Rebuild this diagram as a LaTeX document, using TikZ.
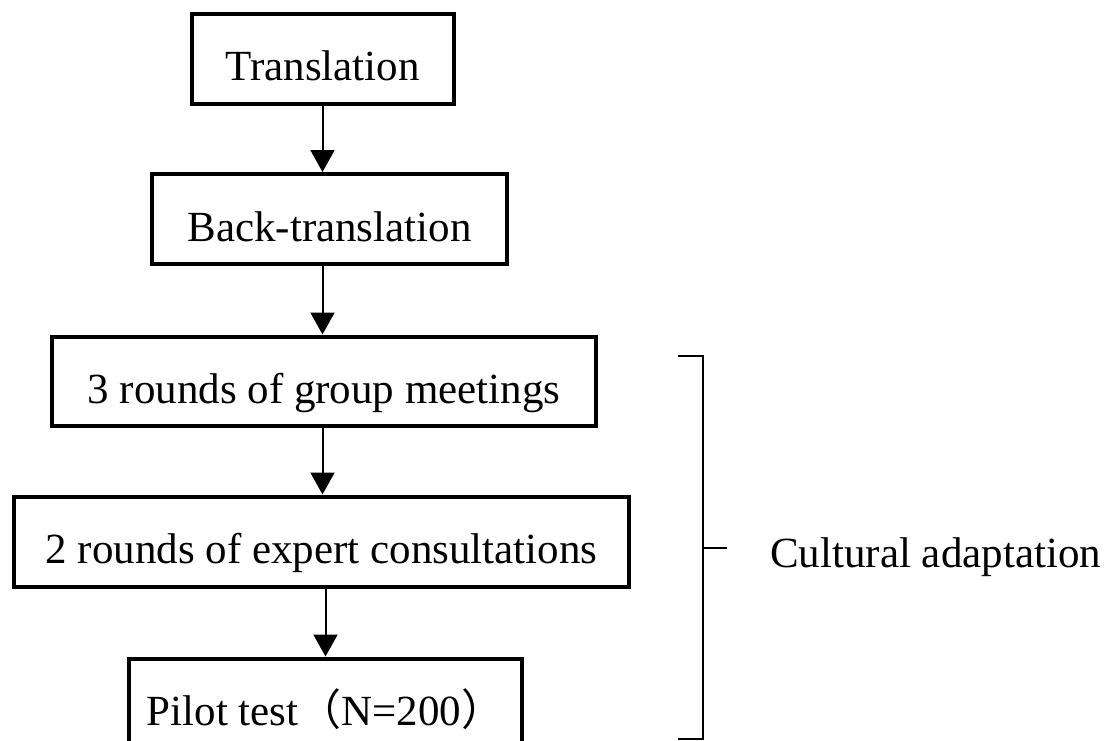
\documentclass[tikz,border=0pt]{standalone}
\usepackage{fontspec}
\setmainfont{Liberation Serif}
\newfontfamily\cjk{Noto Sans CJK SC}
\usetikzlibrary{arrows.meta}
\begin{document}
\begin{tikzpicture}[x=1pt,y=-1pt,
  stepbox/.style={draw=black, line width=4pt, inner sep=0pt, text height=44pt, text depth=0pt,
    font=\fontsize{43}{50}\selectfont, align=center},
  flow/.style={line width=2pt, -{Triangle[length=22pt,width=24pt]}},
  bracketline/.style={line width=2pt},
  labeltext/.style={font=\fontsize{43}{50}\selectfont, inner sep=0pt}]
\useasboundingbox (0,0) rectangle (1108,741);
\node[stepbox, minimum width=262pt, minimum height=89.5pt] (t) at (322.5,59) {Translation};
\node[stepbox, minimum width=355pt, minimum height=90pt] (b) at (329.5,219) {Back-translation};
\node[stepbox, minimum width=544pt, minimum height=89pt] (g) at (324,381) {3 rounds of group meetings};
\node[stepbox, minimum width=615pt, minimum height=90pt] (e) at (321.5,541.5) {2 rounds of expert consultations};
\node[stepbox, minimum width=393pt, minimum height=89pt] (p) at (325.5,703) {Pilot test{\cjk （}N=200{\cjk ）}};
\draw[flow] (t.south) -- (t.south |- b.north);
\draw[flow] (b.south -| t.south) -- (g.north -| t.south);
\draw[flow] (g.south -| t.south) -- (e.north -| t.south);
\draw[flow] (e.south -| p.north) -- (p.north);
\coordinate (brtop) at (678,356);
\coordinate (brbot) at (678,739);
\coordinate (brmid) at (703,548);
\coordinate (brtick) at (727,548);
\draw[bracketline] (brtop) -- (703,356) -- (703,739) -- (brbot);
\draw[bracketline] (brmid) -- (brtick);
\node[labeltext, anchor=base west] (ca) at (770,567) {Cultural adaptation};
\end{tikzpicture}
\end{document}
